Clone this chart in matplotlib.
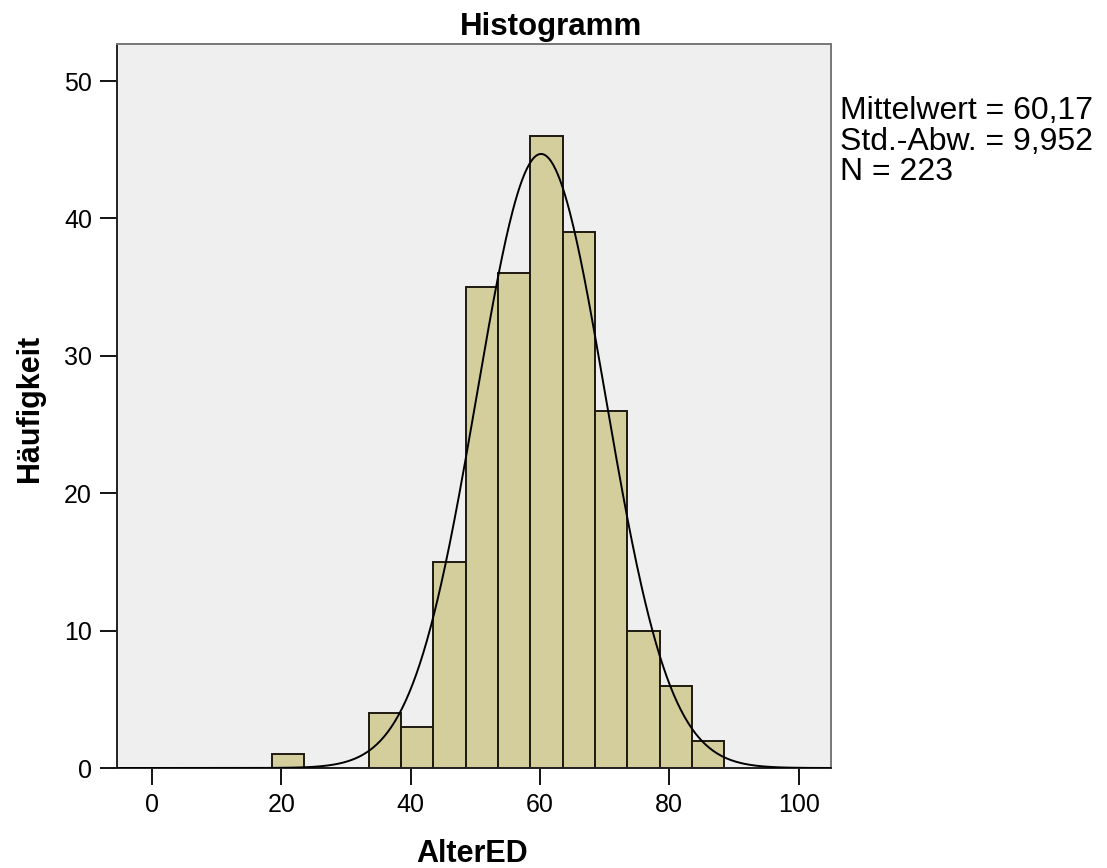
import numpy as np
import matplotlib
matplotlib.use("Agg")
import matplotlib.pyplot as plt

plt.rcParams['font.family'] = ['Liberation Sans', 'DejaVu Sans']

# Data
bin_edges = [18.5, 23.5, 28.5, 33.5, 38.5, 43.5, 48.5, 53.5, 58.5, 63.5, 68.5, 73.5, 78.5, 83.5, 88.5]
counts = [1, 0, 0, 4, 3, 15, 35, 36, 46, 39, 26, 10, 6, 2]
mean = 60.17
std = 9.952
n = 223
xticks = [0, 20, 40, 60, 80, 100]
yticks = [0, 10, 20, 30, 40, 50]

W, H = 1107, 868
fig = plt.figure(figsize=(W / 100, H / 100), dpi=100)
ax = fig.add_axes([117 / W, 100 / H, (831 - 117) / W, (768 - 44) / H])
ax.set_facecolor('#EFEFEF')

edges = np.array(bin_edges)
widths = np.diff(edges)
ax.bar(edges[:-1], counts, width=widths, align='edge', color='#D3CE9B',
       edgecolor='#1E1A10', linewidth=1.4, zorder=2)

xs = np.linspace(-5.4, 105, 600)
bw = widths[0]
ys = n * bw / (std * np.sqrt(2 * np.pi)) * np.exp(-0.5 * ((xs - mean) / std) ** 2)
ax.plot(xs, ys, color='black', linewidth=1.4, zorder=3)

ax.set_xlim(-5.4, 105)
ax.set_ylim(0, 52.7)
ax.set_xticks(xticks)
ax.set_yticks(yticks)
ax.tick_params(axis='both', direction='out', length=12, width=1.3, labelsize=18, pad=6)

for side in ['left', 'bottom']:
    ax.spines[side].set_color('#222222')
    ax.spines[side].set_linewidth(1.4)
for side in ['top', 'right']:
    ax.spines[side].set_color('#777777')
    ax.spines[side].set_linewidth(1.4)

fig.text(551 / W, 1 - 35 / H, 'Histogramm', fontsize=22.5, fontweight='bold',
         ha='center', va='baseline')
fig.text(472 / W, 1 - 862 / H, 'AlterED', fontsize=22, fontweight='bold',
         ha='center', va='baseline')
fig.text(30 / W, 1 - 408 / H, 'Häufigkeit', fontsize=22, fontweight='bold',
         ha='center', va='center', rotation=90)

fig.text(840 / W, 1 - 96 / H,
         'Mittelwert = 60,17\nStd.-Abw. = 9,952\nN = 223',
         fontsize=23, va='top', ha='left', linespacing=1.03)

fig.savefig('out.png', dpi=100)
